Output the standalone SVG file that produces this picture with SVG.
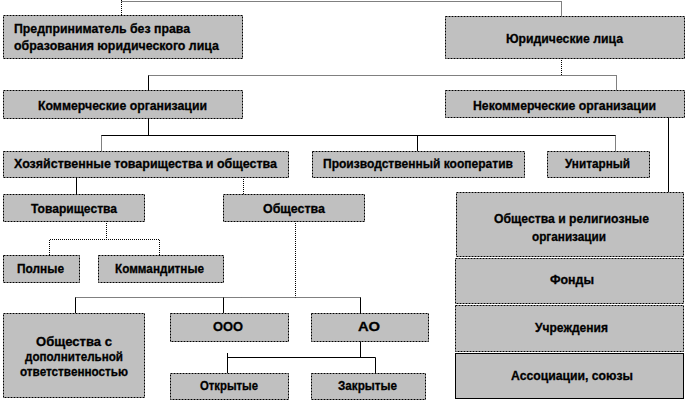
<svg xmlns="http://www.w3.org/2000/svg" width="686" height="403" viewBox="0 0 686 403">
<style>
.b{fill:#c0c0c0;stroke:#000;stroke-width:1}
.d{fill:#c0c0c0;stroke:#000;stroke-width:1;stroke-dasharray:2,1}
.t{font-family:"Liberation Sans",Arial,sans-serif;font-size:13px;font-weight:bold;fill:#000;stroke:#000;stroke-width:0.3;text-anchor:start}
.s{fill:none;stroke:#000;stroke-width:1}
.p{fill:none;stroke:#000;stroke-width:1;stroke-dasharray:1,1}
</style>
<rect width="686" height="403" fill="#fff"/>
<g id="connectors">
<path class="p" d="M121.5,0V15M121.5,1.5H561.5V16"/>
<path class="p" d="M561.5,58V75.5M148.5,75.5H616.5V90"/>
<path class="s" d="M148.5,75.5V90"/>
<path class="s" d="M148.5,118V135.5M101.5,135.5H615.5M417.5,135.5V151"/>
<path class="p" d="M101.5,135.5V151M615.5,135.5V151"/>
<path class="s" d="M668.5,117V192"/>
<path class="s" d="M76.5,177V194"/>
<path class="p" d="M243.5,177V194"/>
<path class="p" d="M106.5,221V239.5M49.5,255V239.5H159.5V255"/>
<path class="p" d="M295.5,221V297.5M75.5,297.5H360.5"/>
<path class="s" d="M75.5,297.5V313M223.5,297.5V313M360.5,297.5V313"/>
<path class="s" d="M360.5,341V357.5M227.5,353V373M227.5,357.5H375.5V373"/>
</g>
<g id="n1"><rect class="d" x="3.5" y="15.5" width="239" height="43"/><text class="t" x="14" y="33" textLength="176" lengthAdjust="spacingAndGlyphs">Предприниматель без права</text><text class="t" x="14" y="50" textLength="205" lengthAdjust="spacingAndGlyphs">образования юридического лица</text></g>
<g id="n2"><rect class="d" x="445.5" y="16.5" width="239" height="42"/><text class="t" x="506" y="43" textLength="117" lengthAdjust="spacingAndGlyphs">Юридические лица</text></g>
<g id="n3"><rect class="d" x="3.5" y="90.5" width="239" height="28"/><text class="t" x="38" y="110" textLength="169" lengthAdjust="spacingAndGlyphs">Коммерческие организации</text></g>
<g id="n4"><rect class="d" x="445.5" y="90.5" width="239" height="27"/><text class="t" x="473" y="110" textLength="183" lengthAdjust="spacingAndGlyphs">Некоммерческие организации</text></g>
<g id="n5"><rect class="d" x="3.5" y="151.5" width="285" height="26"/><text class="t" x="14" y="168" textLength="263" lengthAdjust="spacingAndGlyphs">Хозяйственные товарищества и общества</text></g>
<g id="n6"><rect class="d" x="312.5" y="151.5" width="212" height="26"/><text class="t" x="323" y="168" textLength="190" lengthAdjust="spacingAndGlyphs">Производственный кооператив</text></g>
<g id="n7"><rect class="d" x="547.5" y="151.5" width="102" height="26"/><text class="t" x="565" y="168" textLength="65" lengthAdjust="spacingAndGlyphs">Унитарный</text></g>
<g id="n8"><rect class="d" x="3.5" y="194.5" width="141" height="27"/><text class="t" x="31" y="213" textLength="86" lengthAdjust="spacingAndGlyphs">Товарищества</text></g>
<g id="n9"><rect class="d" x="223.5" y="194.5" width="141" height="27"/><text class="t" x="263" y="213" textLength="62" lengthAdjust="spacingAndGlyphs">Общества</text></g>
<g id="n10"><rect class="d" x="3.5" y="255.5" width="76" height="27"/><text class="t" x="17" y="273" textLength="47" lengthAdjust="spacingAndGlyphs">Полные</text></g>
<g id="n11"><rect class="d" x="98.5" y="255.5" width="125" height="27"/><text class="t" x="115" y="273" textLength="89" lengthAdjust="spacingAndGlyphs">Коммандитные</text></g>
<g id="n12"><rect class="d" x="3.5" y="313.5" width="141" height="84"/><text class="t" x="36" y="346" textLength="76" lengthAdjust="spacingAndGlyphs">Общества с</text><text class="t" x="25" y="361" textLength="98" lengthAdjust="spacingAndGlyphs">дополнительной</text><text class="t" x="20" y="376" textLength="108" lengthAdjust="spacingAndGlyphs">ответственностью</text></g>
<g id="n13"><rect class="d" x="170.5" y="313.5" width="118" height="28"/><text class="t" x="213" y="331" textLength="30" lengthAdjust="spacingAndGlyphs">ООО</text></g>
<g id="n14"><rect class="d" x="311.5" y="313.5" width="117" height="28"/><text class="t" x="358" y="331" textLength="22" lengthAdjust="spacingAndGlyphs">АО</text></g>
<g id="n15"><rect class="d" x="170.5" y="373.5" width="118" height="26"/><text class="t" x="200" y="390" textLength="58" lengthAdjust="spacingAndGlyphs">Открытые</text></g>
<g id="n16"><rect class="d" x="311.5" y="373.5" width="114" height="26"/><text class="t" x="338" y="390" textLength="59" lengthAdjust="spacingAndGlyphs">Закрытые</text></g>
<g id="n17"><rect class="d" x="456.5" y="192.5" width="227" height="64"/><text class="t" x="494" y="223" textLength="155" lengthAdjust="spacingAndGlyphs">Общества и религиозные</text><text class="t" x="532" y="241" textLength="74" lengthAdjust="spacingAndGlyphs">организации</text></g>
<g id="n18"><rect class="d" x="455.5" y="258.5" width="228" height="45"/><text class="t" x="550" y="284" textLength="44" lengthAdjust="spacingAndGlyphs">Фонды</text></g>
<g id="n19"><rect class="d" x="455.5" y="305.5" width="228" height="46"/><text class="t" x="535" y="332" textLength="73" lengthAdjust="spacingAndGlyphs">Учреждения</text></g>
<g id="n20"><rect class="b" x="455.5" y="353.5" width="228" height="45"/><text class="t" x="511" y="380" textLength="122" lengthAdjust="spacingAndGlyphs">Ассоциации, союзы</text></g>
</svg>
